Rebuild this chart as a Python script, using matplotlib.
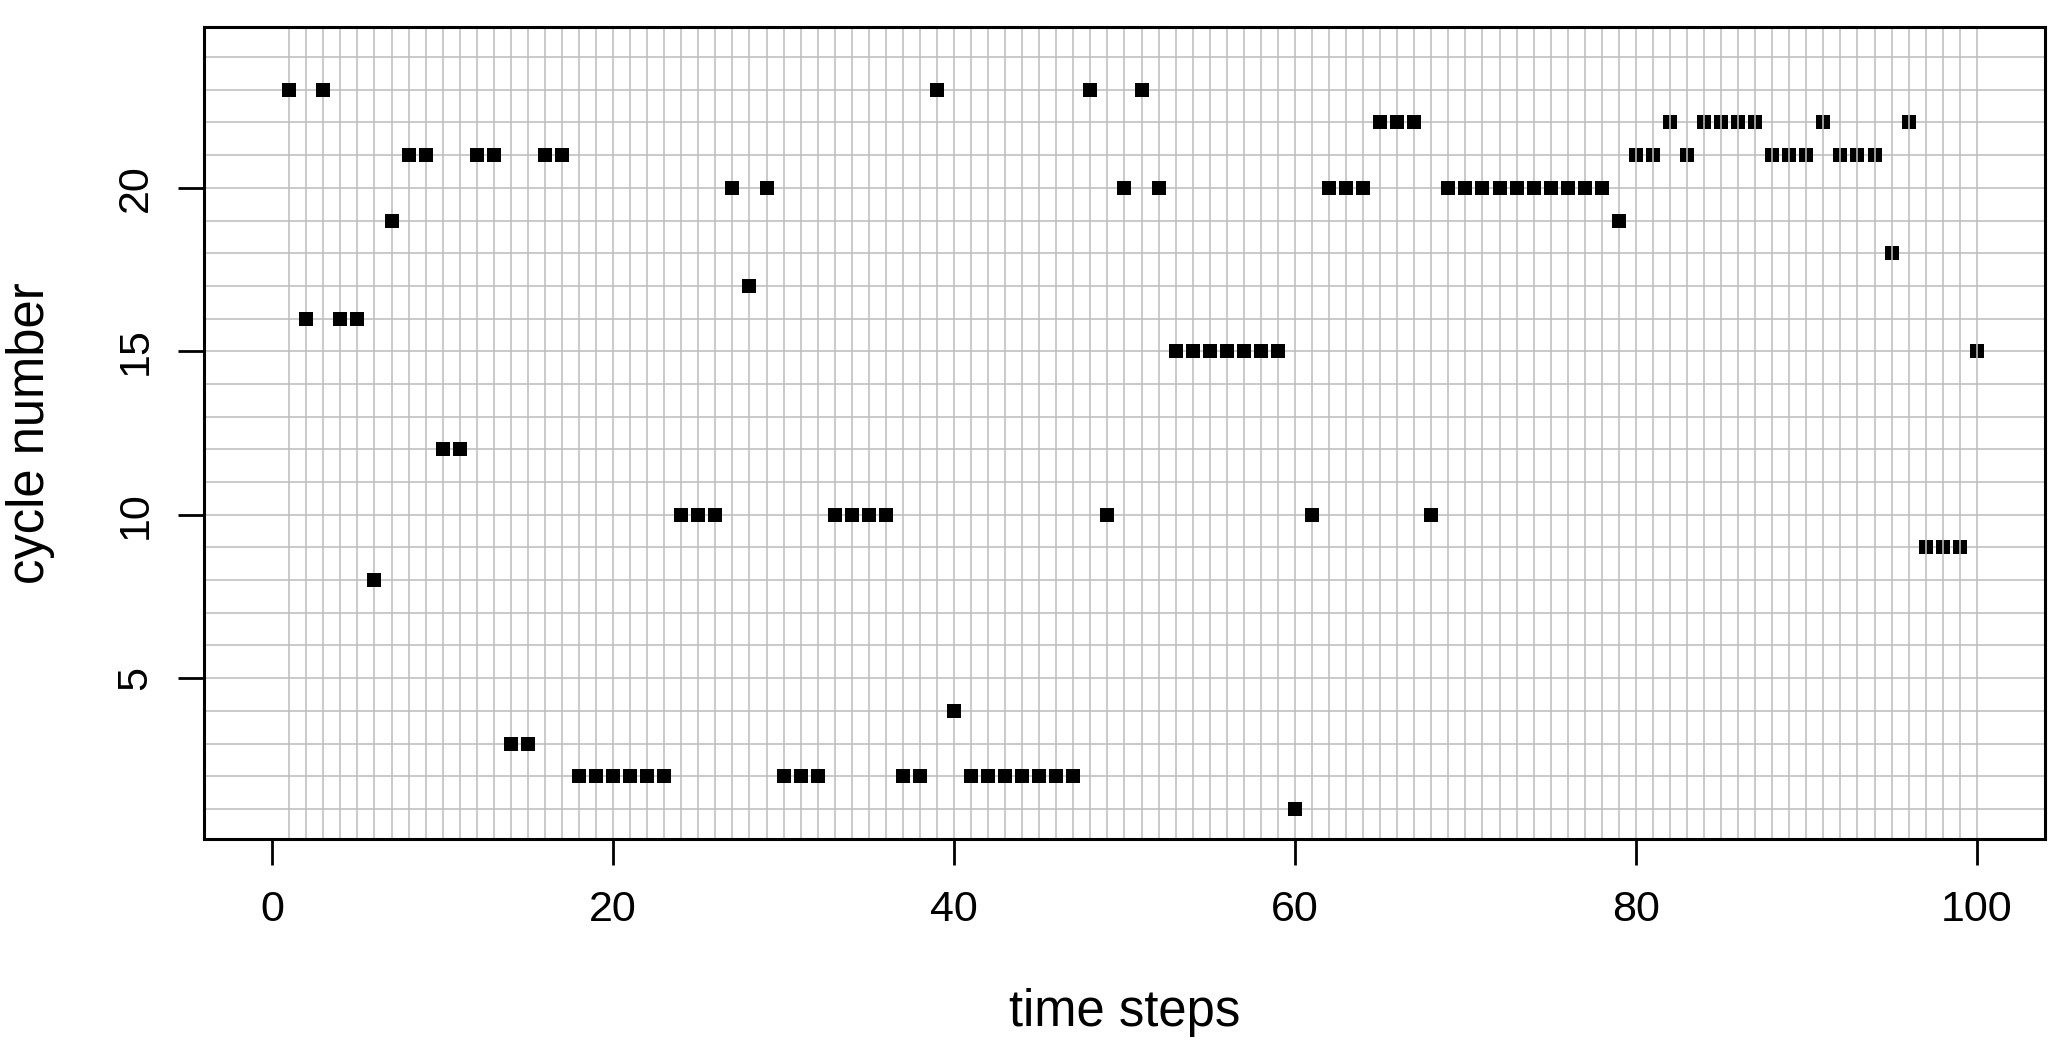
import numpy as np
import matplotlib
matplotlib.use('Agg')
import matplotlib.pyplot as plt

plt.rcParams['font.family'] = ['Liberation Sans', 'DejaVu Sans']

# time step index and the cycle number visited at that step
steps = list(range(1, 101))
cycle = [23, 16, 23, 16, 16, 8, 19, 21, 21, 12,
         12, 21, 21, 3, 3, 21, 21, 2, 2, 2,
         2, 2, 2, 10, 10, 10, 20, 17, 20, 2,
         2, 2, 10, 10, 10, 10, 2, 2, 23, 4,
         2, 2, 2, 2, 2, 2, 2, 23, 10, 20,
         23, 20, 15, 15, 15, 15, 15, 15, 15, 1,
         10, 20, 20, 20, 22, 22, 22, 10, 20, 20,
         20, 20, 20, 20, 20, 20, 20, 20, 19, 21,
         21, 22, 21, 22, 22, 22, 22, 21, 21, 21,
         22, 21, 21, 21, 18, 22, 9, 9, 9, 15]

grid_rows = list(range(1, 25))
xticks = [0, 20, 40, 60, 80, 100]
yticks = [5, 10, 15, 20]

steps = np.array(steps)
cycle = np.array(cycle)

fig = plt.figure(figsize=(20.66, 10.64), dpi=100)
ax = fig.add_axes([204/2066, 1 - 839/1064, (2045-204)/2066, (839-27)/1064])

gcol = '#bebebe'
ax.hlines(grid_rows, -10, 110, color=gcol, lw=1.15, zorder=1)
ax.vlines(steps, -5, 30, color=gcol, lw=1.15, zorder=2)

# later points sit under the vertical grid lines in the original
late = steps >= 80
ax.plot(steps[~late], cycle[~late], 's', color='black', ms=9.6, mew=0, zorder=3)
ax.plot(steps[late], cycle[late], 's', color='black', ms=9.6, mew=0, zorder=1.5)

ax.set_xlim(-4, 104)
ax.set_ylim(0.08, 24.92)
ax.set_xticks(xticks)
ax.set_yticks(yticks)

for s in ax.spines.values():
    s.set_linewidth(2.2)
ax.tick_params(axis='both', direction='out', length=19, width=2.0, labelsize=31)
ax.tick_params(axis='x', pad=18)
ax.tick_params(axis='y', pad=16, labelrotation=90)
plt.setp(ax.get_yticklabels(), va='center')

ax.set_xlabel('time steps', fontsize=36.5)
ax.set_ylabel('cycle number', fontsize=36.5)
ax.xaxis.set_label_coords(0.5, -0.183)
ax.yaxis.set_label_coords(-0.081, 0.5)

fig.savefig('out.png', dpi=100)
